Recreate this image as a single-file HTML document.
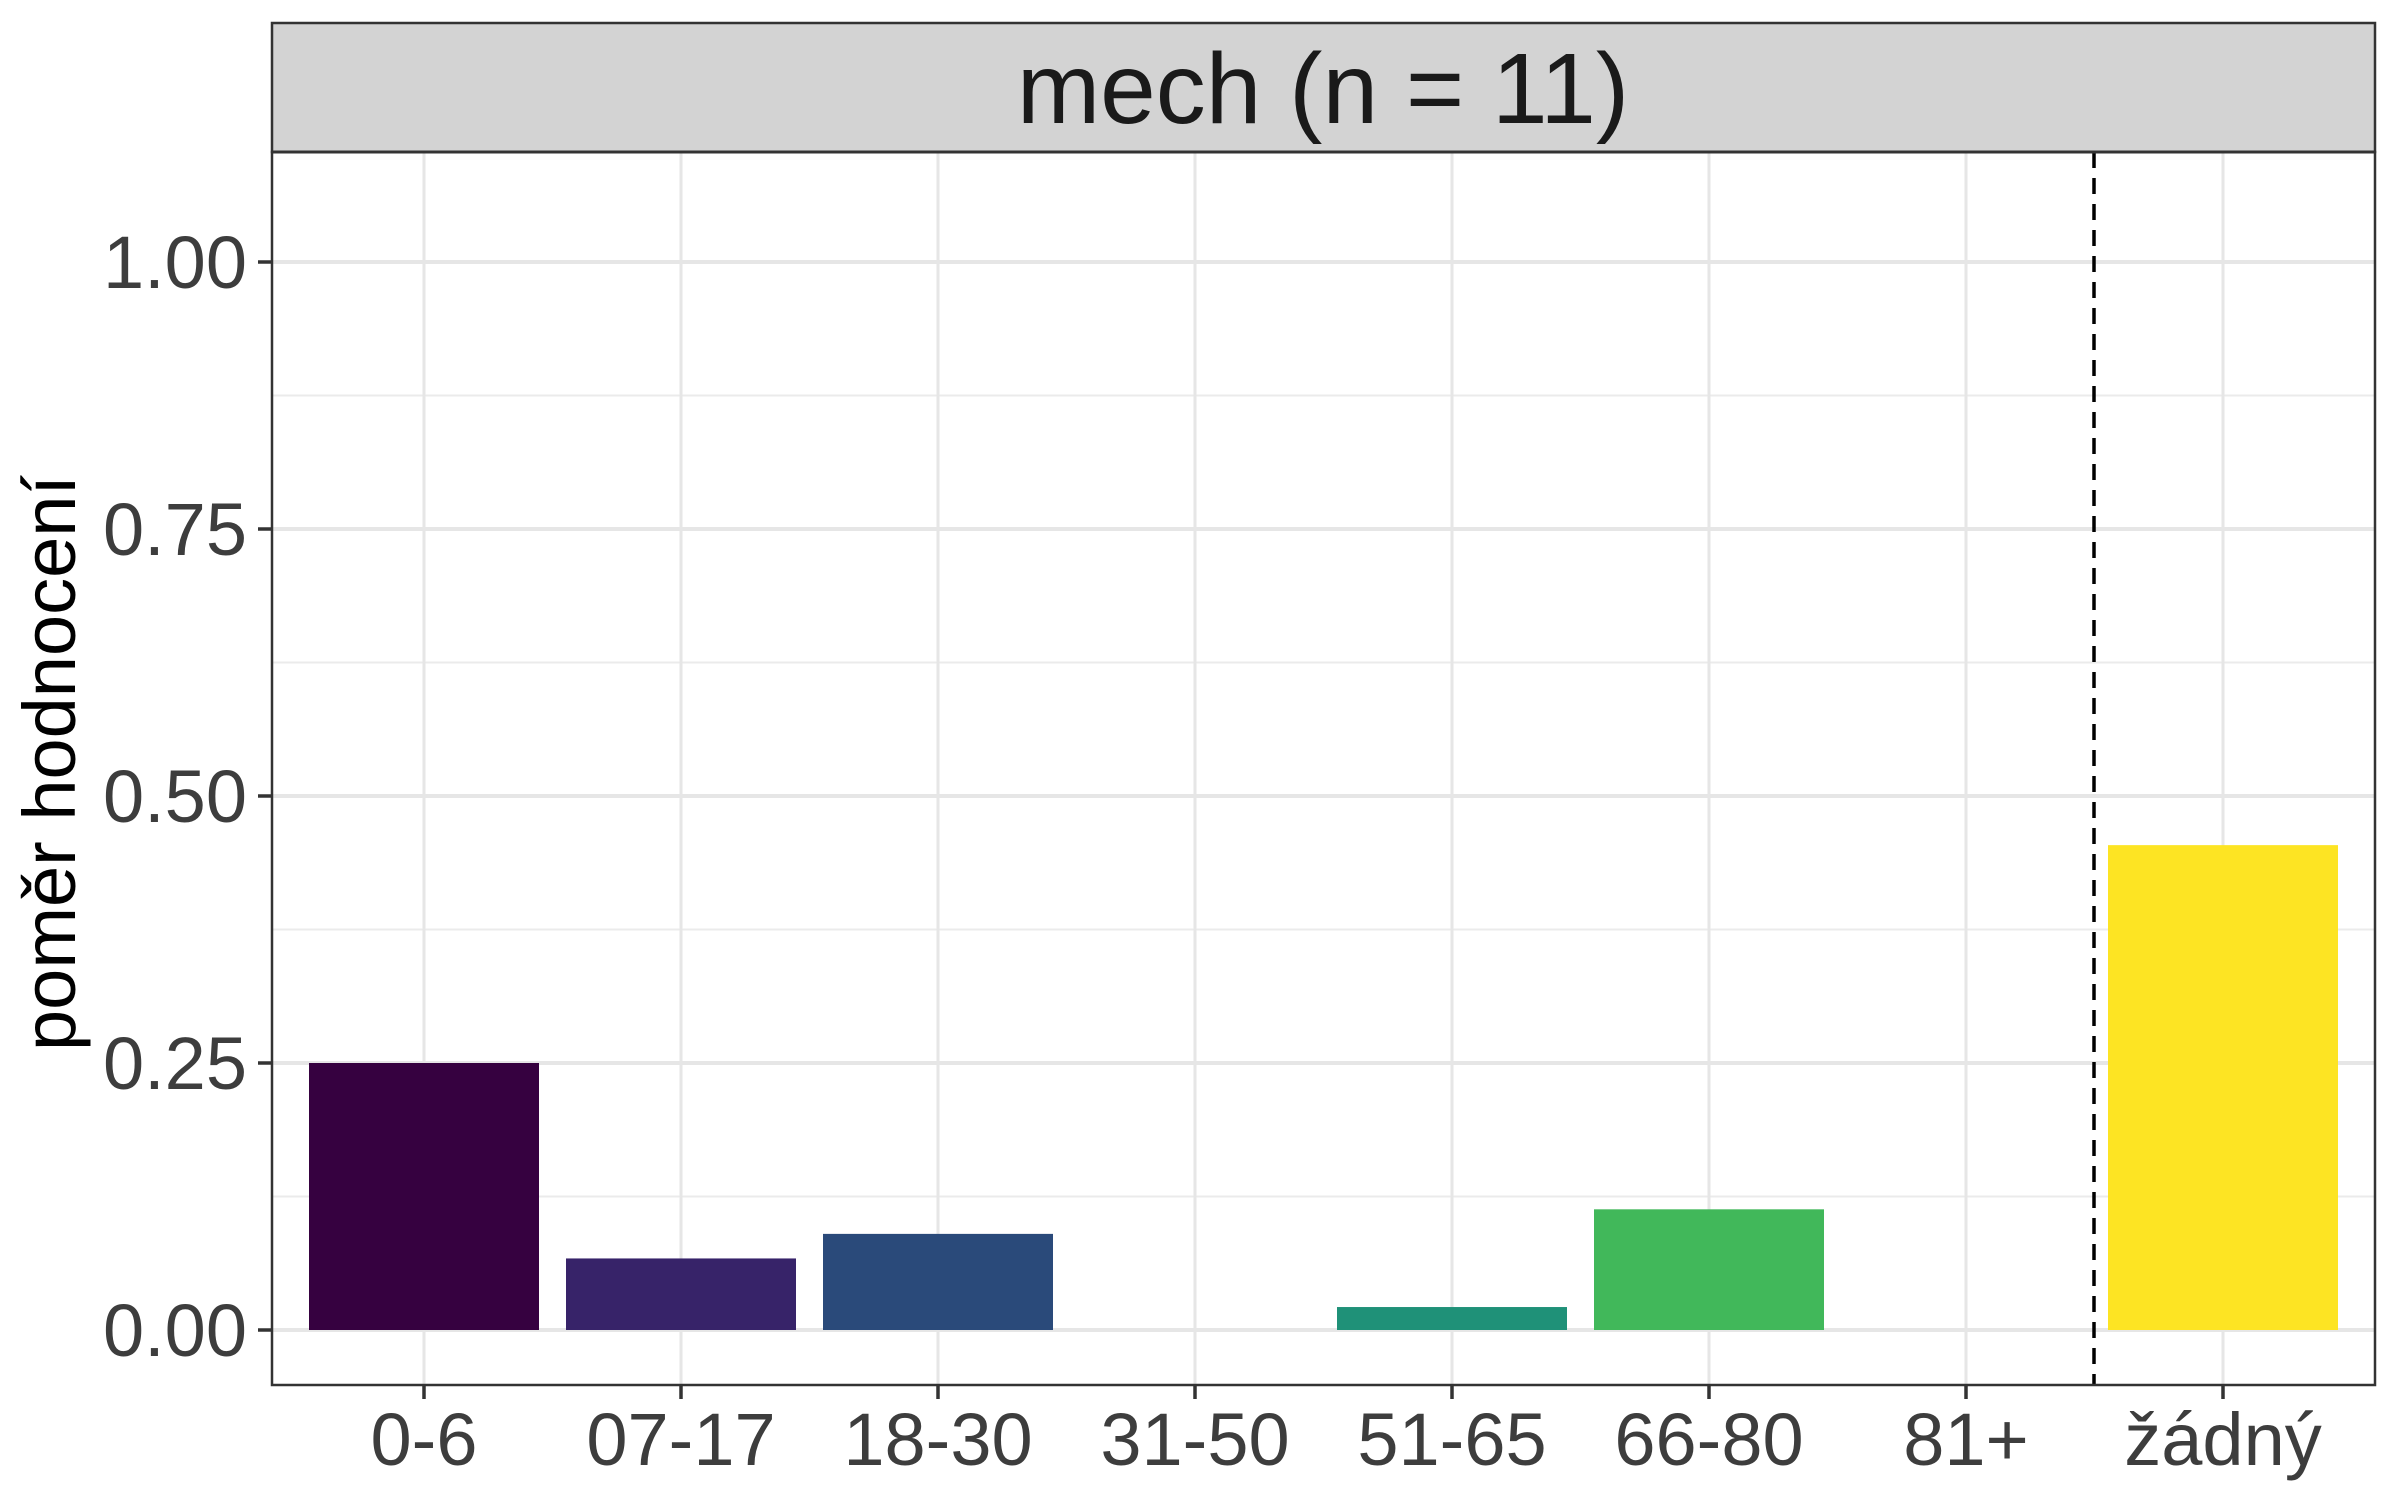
<!DOCTYPE html>
<html><head><meta charset="utf-8"><style>
html,body{margin:0;padding:0;background:#fff;}
svg{display:block;font-family:"Liberation Sans",sans-serif;}
</style></head><body>
<svg width="2400" height="1500" viewBox="0 0 2400 1500">
<rect x="0" y="0" width="2400" height="1500" fill="#fff"/>
<g id="grid"></g>
<g id="bars"></g>
<line x1="2094" y1="152" x2="2094" y2="1385" stroke="#000" stroke-width="3.5" stroke-dasharray="16,10"/>
<rect x="272" y="152" width="2103" height="1233" fill="none" stroke="#333" stroke-width="2.5"/>
<rect x="272" y="23" width="2103" height="129" fill="#d3d3d3" stroke="#333" stroke-width="2.5"/>
<line x1="272" y1="152" x2="2375" y2="152" stroke="#333" stroke-width="3"/>
<text x="1323" y="123" font-size="100" text-anchor="middle" fill="#1a1a1a">mech (n = 11)</text>
<text transform="translate(75,763) rotate(-90)" font-size="74" text-anchor="middle" fill="#000">poměr hodnocení</text>
<g id="axes"></g>
</svg>
<script>
const categories = ["0-6","07-17","18-30","31-50","51-65","66-80","81+","žádný"];
const values = [0.25,0.067,0.09,0,0.0215,0.113,0,0.454];
const colors = ["#360140","#372369","#2a4a7a","#23768e","#1f9178","#41b85a","#9dd93a","#fde423"];
const yTicks = [0,0.25,0.5,0.75,1];
const yTickLabels = ["0.00","0.25","0.50","0.75","1.00"];
const NS="http://www.w3.org/2000/svg";
const y0=1330, y1=262;
function yScale(v){return y0-(y0-y1)*v;}
function xScale(i){return 424+257*i;}
const bw=230;
const grid=document.getElementById('grid'), bars=document.getElementById('bars'), axes=document.getElementById('axes');
function mk(tag,attrs,parent){const e=document.createElementNS(NS,tag);for(const k in attrs)e.setAttribute(k,attrs[k]);parent.appendChild(e);return e;}
for(let i=0;i<yTicks.length-1;i++){
  const g=mk('line',{x1:272,x2:2375,y1:yScale((yTicks[i]+yTicks[i+1])/2),y2:yScale((yTicks[i]+yTicks[i+1])/2),stroke:'#ebebeb','stroke-width':2},grid);
  
  
}
yTicks.forEach((t,i)=>{
  const g=mk('line',{x1:272,x2:2375,y1:yScale(t),y2:yScale(t),stroke:'#e6e6e6','stroke-width':4},grid);
  
  
  const tk=mk('line',{x1:258,x2:272,y1:yScale(t),y2:yScale(t),stroke:'#333','stroke-width':3.5},axes);
  
  
  const tx=mk('text',{x:247,y:yScale(t)+26,'font-size':74,'text-anchor':'end',fill:'#3d3d3d'},axes);
  tx.textContent=yTickLabels[i];
  
  
});
categories.forEach((c,i)=>{
  const x=xScale(i);
  const g=mk('line',{x1:x,x2:x,y1:152,y2:1385,stroke:'#e6e6e6','stroke-width':3},grid);
  
  
  if(values[i]>0){
    const b=mk('rect',{x:x-bw/2,y:yScale(values[i]),width:bw,height:y0-yScale(values[i]),fill:colors[i]},bars);
    
    
  }
  const tk=mk('line',{x1:x,x2:x,y1:1385,y2:1399,stroke:'#333','stroke-width':3.5},axes);
  
  
  const tx=mk('text',{x:x,y:1465,'font-size':74,'text-anchor':'middle',fill:'#3d3d3d'},axes);
  tx.textContent=c;
  
  
});
</script>
</body></html>
